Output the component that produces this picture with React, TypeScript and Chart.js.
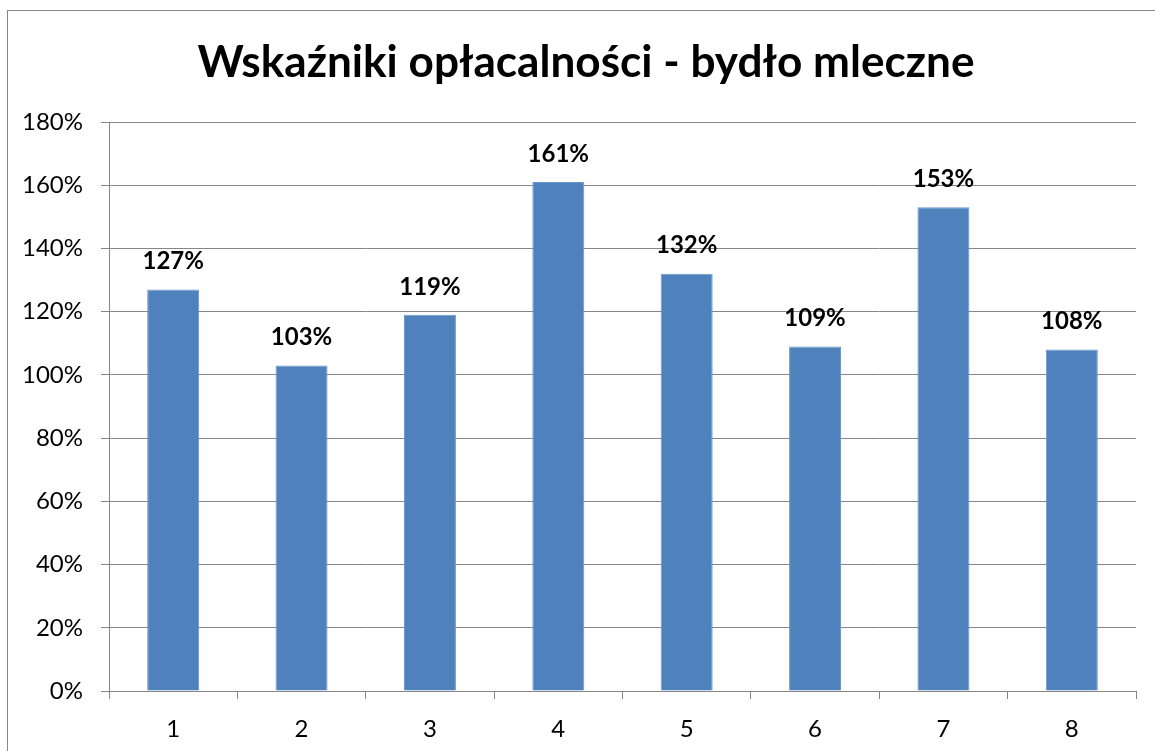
import React, { useEffect, useRef } from "react";
import { Chart, registerables } from "chart.js";

Chart.register(...registerables);

const TITLE = "Wskaźniki opłacalności - bydło mleczne";
const categories = ["1", "2", "3", "4", "5", "6", "7", "8"];
const values = [127, 103, 119, 161, 132, 109, 153, 108];
const yMin = 0;
const yMax = 180;
const yStep = 20;

const FONT = "Lato, 'Open Sans', sans-serif";
const GRID = "#868686";

const decorPlugin = {
  id: "decor",
  beforeDraw(chart: any) {
    const ctx = chart.ctx;
    ctx.save();
    ctx.fillStyle = "#fff";
    ctx.fillRect(0, 0, chart.width, chart.height);
    ctx.restore();
  },
  afterDraw(chart: any) {
    const ctx = chart.ctx;
    ctx.save();
    ctx.strokeStyle = GRID;
    ctx.lineWidth = 1;
    ctx.strokeRect(7.5, 10.5, 1300, 900);
    // title
    ctx.fillStyle = "#000";
    ctx.textAlign = "center";
    ctx.textBaseline = "alphabetic";
    let size = 44;
    ctx.font = `bold ${size}px ${FONT}`;
    const w = ctx.measureText(TITLE).width;
    size = size * (777 / w);
    ctx.font = `bold ${size}px ${FONT}`;
    ctx.fillText(TITLE, 586, 77);
    // data labels
    const meta = chart.getDatasetMeta(0);
    ctx.font = `bold 24px ${FONT}`;
    ctx.textBaseline = "middle";
    meta.data.forEach((bar: any, i: number) => {
      const v = chart.data.datasets[0].data[i];
      ctx.fillText(`${v}%`, bar.x, bar.y - 28);
    });
    ctx.restore();
  },
};

export default function App() {
  const ref = useRef<HTMLCanvasElement>(null);
  useEffect(() => {
    if (!ref.current) return;
    const chart = new Chart(ref.current, {
      type: "bar",
      data: {
        labels: categories,
        datasets: [
          {
            data: values,
            backgroundColor: "#4F81BD",
            borderColor: "#6a96cc",
            borderWidth: 1,
            barPercentage: 0.405,
            categoryPercentage: 1,
          },
        ],
      },
      options: {
        responsive: false,
        animation: false,
        layout: { padding: { left: 9, right: 19, top: 122, bottom: 0 } },
        plugins: {
          legend: { display: false },
          title: { display: false },
          tooltip: { enabled: false },
        },
        scales: {
          x: {
            grid: {
              display: true,
              drawOnChartArea: false,
              drawTicks: true,
              tickLength: 8,
              color: GRID,
              offset: true,
            },
            border: { color: GRID },
            ticks: {
              color: "#000",
              font: { family: FONT, size: 24 },
              padding: 16,
            },
            afterFit: (s: any) => {
              s.height = 60;
            },
          },
          y: {
            min: yMin,
            max: yMax,
            ticks: {
              stepSize: yStep,
              color: "#000",
              font: { family: FONT, size: 24 },
              padding: 18,
              callback: (v: any) => `${v}%`,
            },
            grid: { color: GRID, tickLength: 8 },
            border: { color: GRID },
            afterFit: (s: any) => {
              s.width = 100;
            },
          },
        },
      },
      plugins: [decorPlugin],
    });
    return () => chart.destroy();
  }, []);
  return (
    <canvas
      ref={ref}
      width={1155}
      height={751}
      style={{ position: "absolute", left: 0, top: 0, width: 1155, height: 751 }}
    />
  );
}
